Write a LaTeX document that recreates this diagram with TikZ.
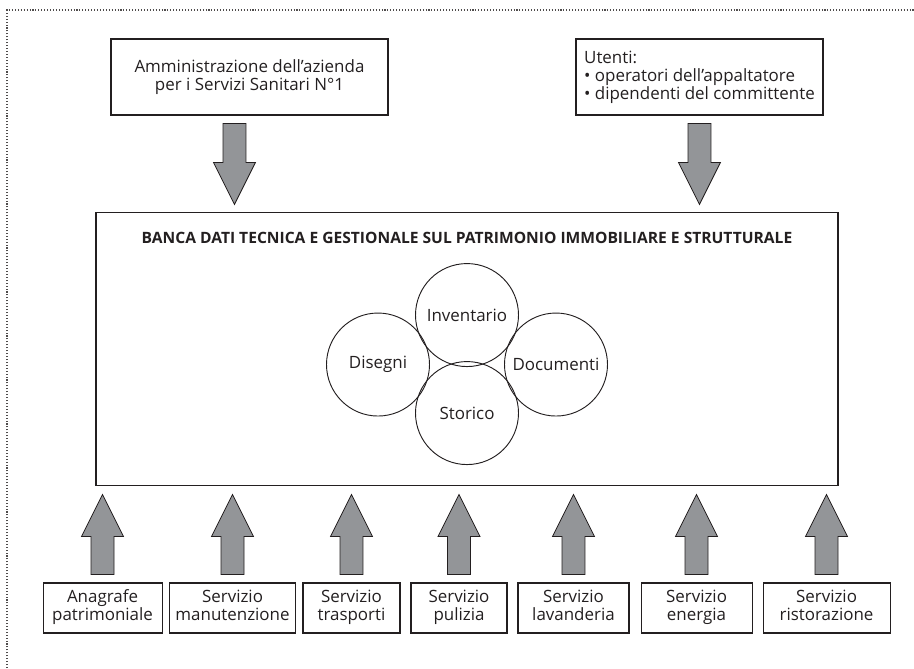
\documentclass[tikz,border=0pt]{standalone}
\usepackage{fontspec}
\setmainfont{Open Sans}
\usetikzlibrary{calc,positioning}
\definecolor{ink}{RGB}{35,31,32}
\definecolor{arrow-gray}{RGB}{147,149,152}
\tikzset{
    plain-box/.style = {draw=ink, line width=0.8pt, rectangle, inner sep=4.5pt, align=center, text=ink, font=\fontsize{12.7}{13.5}\selectfont},
    service-box/.style = {plain-box, minimum height=37.5pt, execute at end node=\strut},
    archive-circle/.style = {draw=ink, line width=0.7pt, circle, minimum size=77.25pt, inner sep=0pt, text=ink, font=\fontsize{12.7}{13.5}\selectfont},
    feed-arrow/.style = {draw=ink, fill=arrow-gray, line width=0.6pt, line join=miter},
}
% fat block arrow from #1 towards #2 (vertical, x taken from #1)
\newcommand{\feed}[2]{%
  \draw[feed-arrow] let \p1=#1, \p2=#2, \n1={ifthenelse(\y2>\y1,1,-1)} in
    (\x1-8.6pt,{\y1+(\n1)*6pt}) -- (\x1-8.6pt,{\y2-(\n1)*37.5pt}) -- (\x1-15.75pt,{\y2-(\n1)*37.5pt})
    -- (\x1,{\y2-(\n1)*6pt})
    -- (\x1+15.75pt,{\y2-(\n1)*37.5pt}) -- (\x1+8.6pt,{\y2-(\n1)*37.5pt}) -- (\x1+8.6pt,{\y1+(\n1)*6pt}) -- cycle;}

\begin{document}
\begin{tikzpicture}
\useasboundingbox (0pt,0pt) rectangle (685.5pt,501pt);
\draw[ink!80, line width=0.8pt, dash pattern=on 0.8pt off 1.4pt] (5.25pt,0pt) -- (5.25pt,493.5pt) -- (685.5pt,493.5pt);

% sources on top
\node [plain-box, minimum width=207.75pt, minimum height=57pt] (admin) at (187.1pt,443.25pt)
    {Amministrazione dell’azienda\\per i Servizi Sanitari N°1};
\node [plain-box, minimum width=185.25pt, minimum height=57pt, align=left] (users) at (524.6pt,443.25pt)
    {Utenti:\\• operatori dell’appaltatore\\• dipendenti del committente};

% the data bank
\node [draw=ink, line width=0.8pt, minimum width=556.5pt, minimum height=204.75pt] (bank) at (350.25pt,238.9pt) {};
\node [text=ink, font=\fontsize{11.7}{13.5}\selectfont\bfseries] (bank-title) at (350.25pt,322.5pt)
    {BANCA DATI TECNICA E GESTIONALE SUL PATRIMONIO IMMOBILIARE E STRUTTURALE};
\coordinate (core) at (350.25pt,227.6pt);
\node [archive-circle] (inventory) at ($(core)+(0pt,37.1pt)$) {Inventario};
\node [archive-circle] (history) at ($(core)+(0pt,-36.4pt)$) {Storico};
\node [archive-circle] (drawings) at ($(core)+(-66.75pt,0pt)$) {Disegni};
\node [archive-circle] (documents) at ($(core)+(66.75pt,0pt)$) {Documenti};

% services at the bottom
\node [service-box, minimum width=89.25pt] (registry) at (76.9pt,45pt) {Anagrafe\\patrimoniale};
\node [service-box, minimum width=89.25pt] (maintenance) at (174.4pt,45pt) {Servizio\\manutenzione};
\node [service-box, minimum width=72.75pt] (transport) at (263.6pt,45pt) {Servizio\\trasporti};
\node [service-box, minimum width=72pt] (cleaning) at (344.25pt,45pt) {Servizio\\pulizia};
\node [service-box, minimum width=83.25pt] (laundry) at (430.1pt,45pt) {Servizio\\lavanderia};
\node [service-box, minimum width=83.25pt] (energy) at (522.4pt,45pt) {Servizio\\energia};
\node [service-box, minimum width=95.25pt] (catering) at (619.9pt,45pt) {Servizio\\ristorazione};

% feeds
\feed{([xshift=-11.25pt]admin.south)}{(bank.north)}
\feed{(users.south)}{(bank.north)}
\feed{(registry.north)}{(bank.south)}
\feed{(maintenance.north)}{(bank.south)}
\feed{(transport.north)}{(bank.south)}
\feed{(cleaning.north)}{(bank.south)}
\feed{(laundry.north)}{(bank.south)}
\feed{(energy.north)}{(bank.south)}
\feed{(catering.north)}{(bank.south)}
\end{tikzpicture}
\end{document}
